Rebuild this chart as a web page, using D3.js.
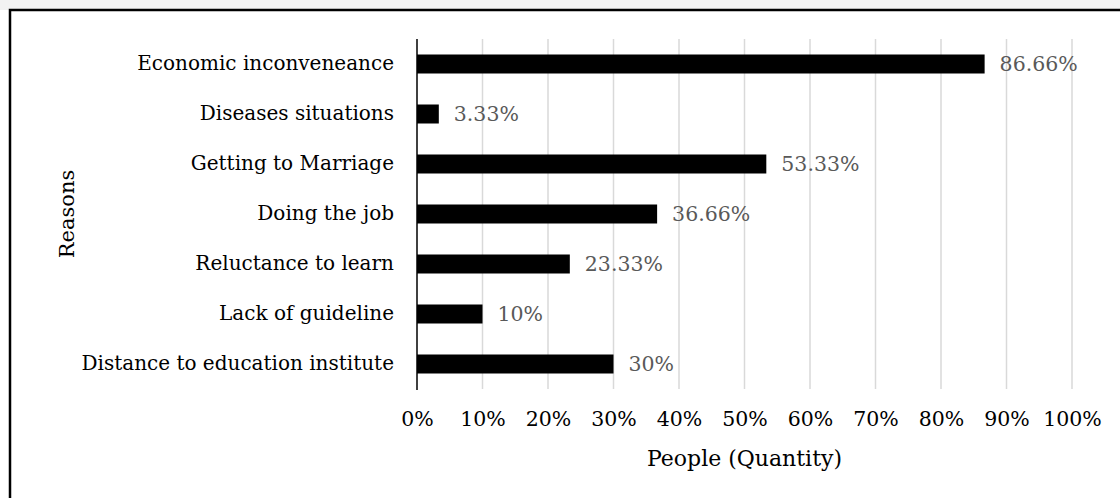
<!DOCTYPE html>
<html>
<head>
<meta charset="utf-8">
<script src="https://cdn.jsdelivr.net/npm/d3@7"></script>
<style>
  body { margin: 0; background: #fff; }
  svg { display: block; }
  text { font-family: "DejaVu Serif", serif; }
</style>
</head>
<body>
<div id="chart"></div>
<script>
var reasons = ["Economic inconveneance", "Diseases situations", "Getting to Marriage",
               "Doing the job", "Reluctance to learn", "Lack of guideline",
               "Distance to education institute"];
var percents = [86.66, 3.33, 53.33, 36.66, 23.33, 10, 30];
var valueLabels = ["86.66%", "3.33%", "53.33%", "36.66%", "23.33%", "10%", "30%"];
var xTicks = [0, 10, 20, 30, 40, 50, 60, 70, 80, 90, 100];

var W = 1120, H = 498;
var margin = {top: 39, right: 48, bottom: 109, left: 417};
var width = W - margin.left - margin.right;
var height = H - margin.top - margin.bottom;

var svg = d3.select("#chart").append("svg")
  .attr("width", W)
  .attr("height", H);

// strip above the frame
svg.append("rect").attr("x", 0).attr("y", 0).attr("width", W).attr("height", 10).attr("fill", "#f2f2f2");
svg.append("rect")
  .attr("x", 10).attr("y", 10)
  .attr("width", W + 10).attr("height", H + 10)
  .attr("fill", "#fff")
  .attr("stroke", "#000")
  .attr("stroke-width", 2.5);

var g = svg.append("g")
  .attr("transform", "translate(" + margin.left + "," + margin.top + ")");

var x = d3.scaleLinear().domain([0, 100]).range([0, width]);
var y = d3.scaleBand().domain(reasons).range([0, height]).paddingInner(0.62).paddingOuter(0.31);

// gridlines
g.selectAll(".grid")
  .data(xTicks.slice(1))
  .enter().append("line")
  .attr("x1", function(d) { return x(d); })
  .attr("x2", function(d) { return x(d); })
  .attr("y1", 0).attr("y2", height)
  .attr("stroke", "#d9d9d9")
  .attr("stroke-width", 1.5);

// bars
g.selectAll(".bar")
  .data(percents)
  .enter().append("rect")
  .attr("x", x(0))
  .attr("y", function(d, i) { return y(reasons[i]); })
  .attr("width", function(d) { return x(d) - x(0); })
  .attr("height", y.bandwidth())
  .attr("fill", "#000");

// value labels
g.selectAll(".val")
  .data(percents)
  .enter().append("text")
  .attr("x", function(d) { return x(d) + 15; })
  .attr("y", function(d, i) { return y(reasons[i]) + y.bandwidth() / 2; })
  .attr("dy", "0.35em")
  .attr("fill", "#595959")
  .style("font-size", "20.5px")
  .text(function(d, i) { return valueLabels[i]; });

// x axis
var xAxis = g.append("g")
  .attr("transform", "translate(0," + height + ")")
  .call(d3.axisBottom(x).tickValues(xTicks).tickFormat(function(d) { return d + "%"; }).tickSize(0).tickPadding(22));
xAxis.select(".domain").remove();
xAxis.selectAll("text").style("font-size", "20.5px").attr("fill", "#000")
  .style("font-family", "'DejaVu Serif', serif");

// y axis
var yAxis = g.append("g")
  .call(d3.axisLeft(y).tickSize(0).tickPadding(23));
yAxis.select(".domain").remove();
yAxis.selectAll("text").style("font-size", "20px").attr("fill", "#000")
  .style("font-family", "'DejaVu Serif', serif");

g.append("line")
  .attr("x1", 0).attr("x2", 0)
  .attr("y1", 0).attr("y2", height + 1)
  .attr("stroke", "#000").attr("stroke-width", 1.5);

// axis titles
svg.append("text")
  .attr("x", margin.left + width / 2).attr("y", 466)
  .attr("text-anchor", "middle")
  .style("font-size", "22px")
  .text("People (Quantity)");

svg.append("text")
  .attr("transform", "translate(74,214) rotate(-90)")
  .attr("text-anchor", "middle")
  .style("font-size", "21px")
  .text("Reasons");
</script>
</body>
</html>
